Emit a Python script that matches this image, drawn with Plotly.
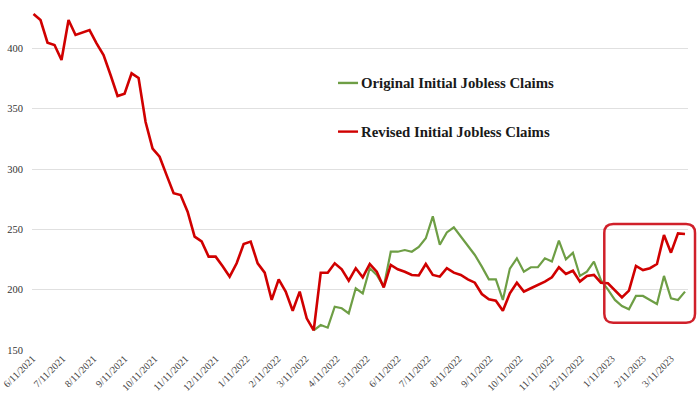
import plotly.graph_objects as go
import pandas as pd

start_date = "2021-06-12"
revised = [428.6, 423.6, 404.8, 402.9, 390.5, 423.6, 411.2, 413.4, 415.3, 404.3,
           394.6, 378.0, 360.6, 362.5, 379.4, 375.5, 339.0, 317.0, 310.3, 295.0,
           280.0, 278.5, 264.7, 244.0, 240.0, 227.4, 227.4, 219.5, 210.8, 221.9,
           237.9, 239.9, 221.9, 214.1, 191.5, 208.6, 198.4, 182.6, 198.4, 176.3,
           166.3, 214.1, 214.1, 221.9, 216.9, 207.5, 217.8, 210.3, 221.3, 214.9,
           201.9, 220.5, 216.9, 214.9, 212.2, 211.8, 221.3, 212.2, 210.8, 217.8,
           214.1, 212.2, 208.6, 205.8, 196.4, 192.0, 190.9, 182.6, 197.0, 205.8,
           198.4, 201.2, 203.9, 206.7, 210.3, 218.6, 213.0, 215.7, 206.7, 211.4,
           212.2, 205.8, 205.3, 199.2, 193.6, 199.2, 219.7, 216.3, 217.8, 221.3,
           245.4, 230.7, 246.7, 246.2]
original_tail = [166.3, 170.7, 168.5, 185.9, 184.6, 180.4, 201.2, 197.0, 217.8, 212.2,
                 202.5, 231.5, 231.5, 232.9, 231.5, 235.5, 242.6, 260.8, 237.3, 247.5,
                 251.7, 244.0, 237.1, 228.8, 219.1, 208.6, 208.6, 191.5, 217.5, 226.0,
                 214.9, 218.6, 218.6, 226.0, 223.3, 240.7, 225.1, 230.6, 211.4, 214.9,
                 223.3, 208.0, 200.0, 191.5, 186.5, 183.7, 194.8, 194.8, 191.5, 188.1,
                 211.4, 192.9, 191.5, 198.4]
original = [None] * (len(revised) - len(original_tail)) + original_tail
series_names = ["Original Initial Jobless Claims", "Revised Initial Jobless Claims"]
series_colors = ["#6e9e45", "#d00000"]

dates = pd.date_range(start_date, periods=len(revised), freq="7D")
tick_dates = pd.date_range("2021-06-01", "2023-03-01", freq="MS") + pd.Timedelta(days=10)
tick_text = [f"{d.month}/11/{d.year}" for d in tick_dates]
y_ticks = [150, 200, 250, 300, 350, 400]

fig = go.Figure()
fig.add_trace(go.Scatter(x=dates, y=original, mode="lines", name=series_names[0],
                         line=dict(color=series_colors[0], width=2.2), showlegend=False))
fig.add_trace(go.Scatter(x=dates, y=revised, mode="lines", name=series_names[1],
                         line=dict(color=series_colors[1], width=2.6), showlegend=False))

# manual legend
legend_y = [0.763, 0.624]
for name, color, ly in zip(series_names, series_colors, legend_y):
    fig.add_shape(type="line", xref="paper", yref="paper", x0=0.4665, x1=0.497, y0=ly, y1=ly,
                  line=dict(color=color, width=2.4))
    fig.add_annotation(text=f"<b>{name}</b>", xref="paper", yref="paper", x=0.498, y=ly,
                       xanchor="left", yanchor="middle", showarrow=False,
                       font=dict(family="Liberation Serif", size=14.8, color="#1a1a1a"))

# rounded highlight box (paper coords)
x0, x1, y0, y1 = 0.8724, 1.0107, 0.078, 0.36
rx, ry = 9 / 656, 9 / 350
path = (f"M {x0+rx},{y1} L {x1-rx},{y1} Q {x1},{y1} {x1},{y1-ry} "
        f"L {x1},{y0+ry} Q {x1},{y0} {x1-rx},{y0} L {x0+rx},{y0} Q {x0},{y0} {x0},{y0+ry} "
        f"L {x0},{y1-ry} Q {x0},{y1} {x0+rx},{y1} Z")
fig.add_shape(type="path", path=path, xref="paper", yref="paper",
              line=dict(color="#d0202a", width=2.5))

fig.update_layout(
    width=700, height=394,
    margin=dict(l=32, r=12, t=0, b=44),
    paper_bgcolor="white", plot_bgcolor="white",
    xaxis=dict(range=["2021-06-10 12:00", "2023-03-28"], tickvals=tick_dates, ticktext=tick_text,
               tickangle=-45, tickfont=dict(family="Liberation Serif", size=10, color="#444"),
               showgrid=False, zeroline=False, showline=False, ticks="", automargin=False),
    yaxis=dict(range=[150, 440.2], tickvals=y_ticks, showgrid=True, gridcolor="#e0e0e0",
               gridwidth=1, zeroline=False, showline=False, ticks="", automargin=False,
               ticklabelstandoff=8,
               tickfont=dict(family="Liberation Serif", size=10.5, color="#333")),
)
fig.write_html("out.html", config={"displayModeBar": False})

with open("out.html", "r", encoding="utf-8") as f:
    html = f.read()
html = html.replace("<body>", '<body style="margin:0;overflow:hidden">', 1)
with open("out.html", "w", encoding="utf-8") as f:
    f.write(html)
